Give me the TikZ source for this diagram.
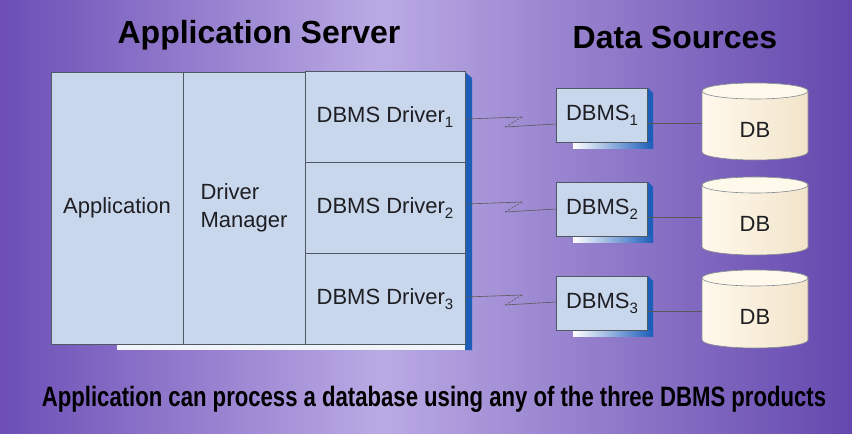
\documentclass[tikz,border=0pt]{standalone}
\usepackage{fontspec}
\setmainfont{Liberation Sans}
\usepackage{graphicx}

\definecolor{boxblue}{RGB}{201,215,237}
\definecolor{edgegray}{RGB}{80,88,100}
\definecolor{shadeblue}{RGB}{28,94,186}
\definecolor{cream}{RGB}{255,249,236}
\definecolor{creamdark}{RGB}{242,228,202}
\definecolor{bgdark}{RGB}{108,78,182}
\definecolor{bglight}{RGB}{186,170,228}
\definecolor{bgright}{RGB}{100,72,174}
\definecolor{inkgray}{RGB}{30,30,35}

\newcommand\lowidx[1]{\raisebox{-5pt}{\fontsize{15}{15}\selectfont#1}}

\tikzset{
  cell/.style={draw=edgegray, fill=boxblue, line width=1pt, inner sep=0pt, text=inkgray, font=\fontsize{22}{28}\selectfont},
  dbmsbox/.style={cell, minimum width=91pt, minimum height=54pt},
  dbtext/.style={text=inkgray, font=\fontsize{22}{26}\selectfont},
  link/.style={draw=gray!70!black, line width=0.6pt},
  title/.style={text=black, font=\fontsize{32}{36}\selectfont\bfseries}
}

\begin{document}
\begin{tikzpicture}[x=1pt, y=-1pt]
  \useasboundingbox (0,0) rectangle (852,434);
  \shade[left color=bgdark, right color=bglight] (0,0) rectangle (380,434);
  \shade[left color=bglight, right color=bgright] (380,0) rectangle (852,434);

  \node[title] (srvtitle) at (259,35) {Application Server};
  \node[title] (srctitle) at (675,37) {Data Sources};

  % application server
  \fill[shadeblue] (465,72) -- (472,78) -- (472,350) -- (465,350) -- cycle;
  \fill[white!75!boxblue] (117,344) -- (465,344) -- (465,350) -- (117,350) -- cycle;
  \node[cell, minimum width=132pt, minimum height=272pt] (app) at (117,208) {Application};
  \node[cell, minimum width=122pt, minimum height=272pt, align=left] (mgr) at (244,208) {Driver\\Manager};
  \node[cell, minimum width=160pt, minimum height=90.7pt] (drv1) at (385,117.3) {DBMS Driver\lowidx{1}};
  \node[cell, minimum width=160pt, minimum height=90.7pt] (drv2) at (385,208) {DBMS Driver\lowidx{2}};
  \node[cell, minimum width=160pt, minimum height=90.7pt] (drv3) at (385,298.7) {DBMS Driver\lowidx{3}};

  % dbms boxes
  \fill[shadeblue] (648,88) -- (653,93) -- (653,148) -- (648,148) -- cycle;
  \shade[left color=white, right color=shadeblue] (573,142) rectangle (653,148);
  \fill[shadeblue] (648,182) -- (653,187) -- (653,242) -- (648,242) -- cycle;
  \shade[left color=white, right color=shadeblue] (573,236) rectangle (653,242);
  \fill[shadeblue] (648,276) -- (653,281) -- (653,336) -- (648,336) -- cycle;
  \shade[left color=white, right color=shadeblue] (573,330) rectangle (653,336);
  \node[dbmsbox] (dbms1) at (602,115) {DBMS\lowidx{1}};
  \node[dbmsbox] (dbms2) at (602,209) {DBMS\lowidx{2}};
  \node[dbmsbox] (dbms3) at (602,303) {DBMS\lowidx{3}};

  % databases
  \shade[left color=cream, right color=creamdark, draw=edgegray!70, line width=0.6pt] (702,91) -- (702,152) arc[start angle=180, end angle=360, x radius=53pt, y radius=8pt] -- (808,91) arc[start angle=0, end angle=180, x radius=53pt, y radius=8pt] -- cycle;
  \filldraw[fill=cream, draw=edgegray!70, line width=0.6pt] (755,91) ellipse [x radius=53pt, y radius=8pt];
  \shade[left color=cream, right color=creamdark, draw=edgegray!70, line width=0.6pt] (702,185) -- (702,247) arc[start angle=180, end angle=360, x radius=53pt, y radius=8pt] -- (808,185) arc[start angle=0, end angle=180, x radius=53pt, y radius=8pt] -- cycle;
  \filldraw[fill=cream, draw=edgegray!70, line width=0.6pt] (755,185) ellipse [x radius=53pt, y radius=8pt];
  \shade[left color=cream, right color=creamdark, draw=edgegray!70, line width=0.6pt] (702,278) -- (702,340) arc[start angle=180, end angle=360, x radius=53pt, y radius=8pt] -- (808,278) arc[start angle=0, end angle=180, x radius=53pt, y radius=8pt] -- cycle;
  \filldraw[fill=cream, draw=edgegray!70, line width=0.6pt] (755,278) ellipse [x radius=53pt, y radius=8pt];
  \node[dbtext] (db1) at (755,130) {DB};
  \node[dbtext] (db2) at (755,224) {DB};
  \node[dbtext] (db3) at (755,317) {DB};

  % links
  \coordinate (brk1a) at (522,117);
  \coordinate (brk1b) at (505,127);
  \coordinate (brk2a) at (522,202);
  \coordinate (brk2b) at (505,212);
  \coordinate (brk3a) at (522,295);
  \coordinate (brk3b) at (505,305);
  \draw[link] (drv1.east |- 0,119) -- (brk1a);
  \draw[link, dash pattern=on 2pt off 1.5pt] (brk1a) -- (brk1b);
  \draw[link] (brk1b) -- (dbms1.west |- 0,124);
  \draw[link] (drv2.east |- 0,204) -- (brk2a);
  \draw[link, dash pattern=on 2pt off 1.5pt] (brk2a) -- (brk2b);
  \draw[link] (brk2b) -- (dbms2.west |- 0,209);
  \draw[link] (drv3.east |- 0,297) -- (brk3a);
  \draw[link, dash pattern=on 2pt off 1.5pt] (brk3a) -- (brk3b);
  \draw[link] (brk3b) -- (dbms3.west |- 0,302);

  \coordinate (db1w) at (702,123);
  \coordinate (db2w) at (702,217);
  \coordinate (db3w) at (702,311);
  \draw[link] (dbms1.east |- db1w) -- (db1w);
  \draw[link] (dbms2.east |- db2w) -- (db2w);
  \draw[link] (dbms3.east |- db3w) -- (db3w);

  \node[text=black] (caption) at (434,399) {\scalebox{0.79}[1]{\fontsize{28}{32}\selectfont\bfseries Application can process a database using any of the three DBMS products}};
\end{tikzpicture}
\end{document}
